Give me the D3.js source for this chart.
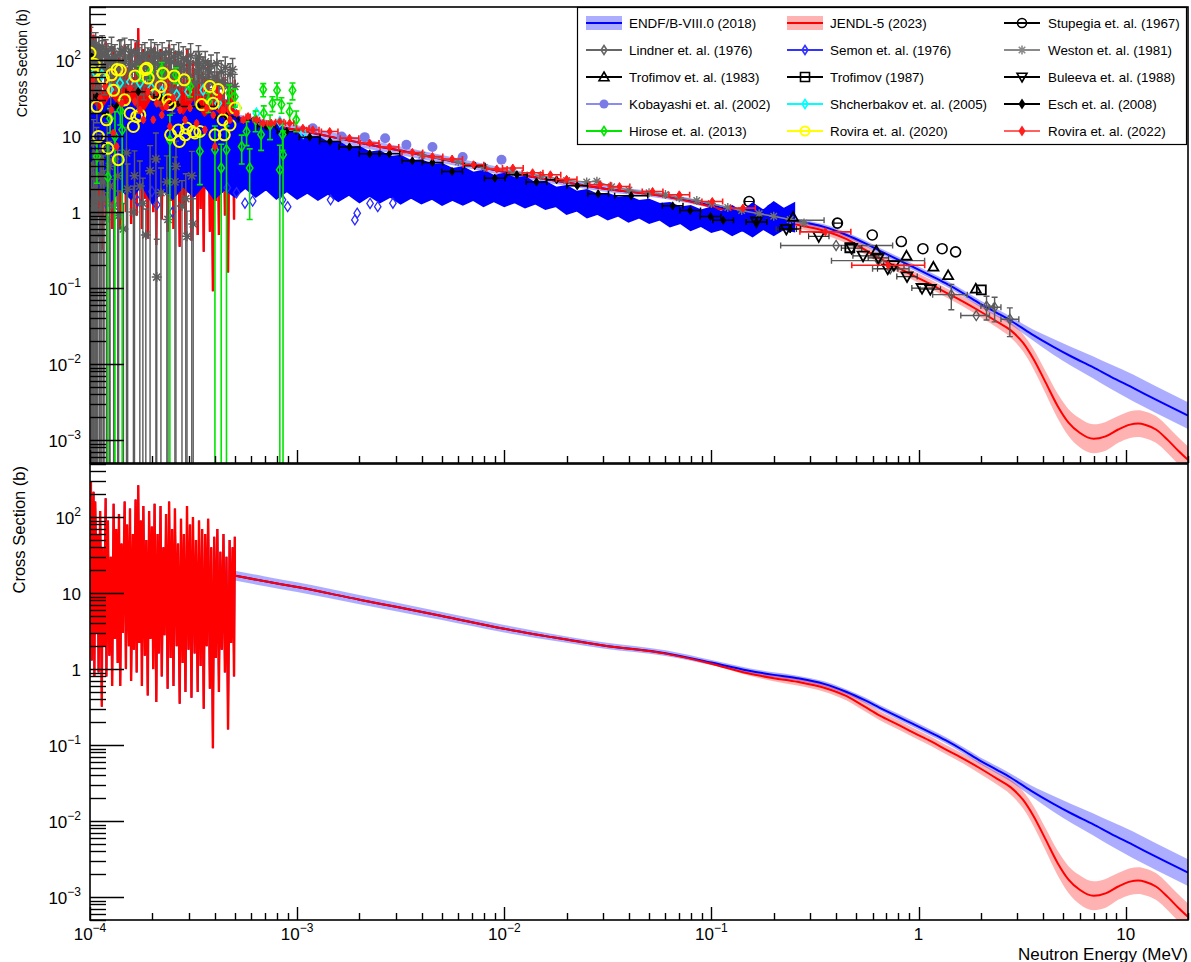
<!DOCTYPE html>
<html><head><meta charset="utf-8">
<script src="https://cdn.jsdelivr.net/npm/d3@7"></script>
<style>body{margin:0;background:#fff}svg{display:block;font-family:"Liberation Sans",Arial,sans-serif}</style>
</head><body><svg width="1191" height="962"></svg>
<script>
// ---------------- DATA ----------------
const xTickVals = [1e-4, 1e-3, 1e-2, 1e-1, 1, 10];
const xTickText = [["10","\u22124"],["10","\u22123"],["10","\u22122"],["10","\u22121"],["1",""],["10",""]];
const yTickVals = [1e-3, 1e-2, 1e-1, 1, 10, 100];
const yTickText = [["10","\u22123"],["10","\u22122"],["10","\u22121"],["1",""],["10",""],["10","2"]];
const legendLabels = ["ENDF/B-VIII.0 (2018)","JENDL-5 (2023)","Stupegia et. al. (1967)",
 "Lindner et. al. (1976)","Semon et. al. (1976)","Weston et. al. (1981)",
 "Trofimov et. al. (1983)","Trofimov (1987)","Buleeva et. al. (1988)",
 "Kobayashi et. al. (2002)","Shcherbakov et. al. (2005)","Esch et. al. (2008)",
 "Hirose et. al. (2013)","Rovira et. al. (2020)","Rovira et. al. (2022)"];

// Evaluated resonance region (shared by both evaluations, MeV / barn)
const resE = [1.000e-4,1.010e-4,1.020e-4,1.040e-4,1.050e-4,1.060e-4,1.080e-4,1.090e-4,1.100e-4,1.120e-4,
1.140e-4,1.150e-4,1.170e-4,1.190e-4,1.200e-4,1.220e-4,1.240e-4,1.260e-4,1.280e-4,1.300e-4,
1.320e-4,1.340e-4,1.360e-4,1.380e-4,1.400e-4,1.420e-4,1.440e-4,1.470e-4,1.490e-4,1.510e-4,
1.540e-4,1.560e-4,1.580e-4,1.610e-4,1.630e-4,1.660e-4,1.680e-4,1.710e-4,1.730e-4,1.760e-4,
1.780e-4,1.810e-4,1.840e-4,1.870e-4,1.900e-4,1.930e-4,1.960e-4,1.990e-4,2.020e-4,2.050e-4,
2.090e-4,2.120e-4,2.150e-4,2.190e-4,2.220e-4,2.260e-4,2.290e-4,2.330e-4,2.370e-4,2.410e-4,
2.450e-4,2.490e-4,2.530e-4,2.570e-4,2.620e-4,2.660e-4,2.710e-4,2.750e-4,2.800e-4,2.840e-4,
2.890e-4,2.940e-4,2.990e-4,3.040e-4,3.090e-4,3.140e-4,3.200e-4,3.250e-4,3.310e-4,3.360e-4,
3.420e-4,3.480e-4,3.540e-4,3.600e-4,3.660e-4,3.720e-4,3.790e-4,3.850e-4,3.920e-4,3.980e-4,
4.050e-4,4.120e-4,4.190e-4,4.260e-4,4.330e-4,4.410e-4,4.480e-4,4.560e-4,4.640e-4,4.720e-4,
4.800e-4,4.880e-4,4.960e-4,5.000e-4];
const resY = [25,294,1.3,215,0.8,160,3,60,0.9,120,
0.32,40,2,177,0.8,90,1.5,30,0.6,150,
2.5,70,1.2,110,0.6,45,3,160,1.0,80,
2,130,0.7,60,1.8,170,0.9,263,2.2,90,
0.6,140,1.5,50,0.45,120,2.5,75,1.0,150,
0.37,60,1.6,140,0.8,40,2.8,110,0.55,160,
1.4,70,0.6,130,2.0,45,0.35,95,1.2,60,
0.5,140,1.8,80,0.42,100,1.6,50,0.5,90,
1.1,70,0.3,60,2.0,95,0.55,40,0.091,55,
1.4,70,0.5,35,1.8,60,0.9,30,0.16,50,
2.2,40,0.8,55];

const endfE = [5e-4,7e-4,1e-3,2e-3,3e-3,5e-3,1e-2,2e-2,3e-2,6e-2,0.1,0.15,0.2,0.26,0.35,0.45,0.55,0.65,0.8,0.94,1.15,1.35,1.65,1.97,2.4,2.78,3.5,4.46,5.5,6.95,8.5,10.8,14,20];
const endfY = [17,14.3,12,8.2,6.6,5.0,3.4,2.45,2.05,1.62,1.22,0.96,0.84,0.76,0.64,0.5,0.39,0.31,0.235,0.19,0.145,0.116,0.085,0.063,0.047,0.0375,0.025,0.017,0.0125,0.0091,0.0068,0.0049,0.0034,0.0021];
const endfU = [0.16,0.16,0.16,0.15,0.14,0.13,0.12,0.1,0.1,0.09,0.08,0.08,0.08,0.08,0.08,0.08,0.09,0.09,0.1,0.1,0.1,0.1,0.1,0.11,0.12,0.13,0.18,0.27,0.33,0.4,0.45,0.5,0.5,0.5];
const jendlE = [5e-4,7e-4,1e-3,2e-3,3e-3,5e-3,1e-2,2e-2,3e-2,6e-2,0.1,0.15,0.2,0.26,0.35,0.45,0.55,0.65,0.8,0.94,1.15,1.35,1.65,1.97,2.4,2.78,3.2,3.6,4.1,4.7,5.3,6.0,7.0,8.0,9.2,10.5,11.5,12.5,14,16,18,20];
const jendlY = [17,14.3,12,8.2,6.6,5.0,3.4,2.45,2.05,1.6,1.18,0.88,0.76,0.68,0.57,0.44,0.32,0.245,0.185,0.147,0.112,0.088,0.066,0.05,0.036,0.028,0.019,0.0115,0.0058,0.0028,0.0017,0.00125,0.00104,0.00112,0.00138,0.0016,0.00165,0.00158,0.00138,0.001,0.00072,0.00055];
const jendlU = [0.02,0.02,0.02,0.02,0.02,0.02,0.02,0.02,0.02,0.02,0.03,0.06,0.1,0.12,0.13,0.14,0.15,0.15,0.15,0.15,0.15,0.15,0.16,0.18,0.2,0.25,0.3,0.35,0.4,0.45,0.5,0.55,0.55,0.55,0.5,0.5,0.5,0.5,0.5,0.5,0.5,0.5];

// Semon (1976): dense data, read as lower / upper envelope
const semonE = [1.00e-4,1.12e-4,1.26e-4,1.41e-4,1.58e-4,1.78e-4,2.00e-4,2.24e-4,2.51e-4,2.82e-4,
3.16e-4,3.55e-4,3.98e-4,4.47e-4,5.01e-4,5.62e-4,6.31e-4,7.08e-4,7.94e-4,8.91e-4,
1.00e-3,1.12e-3,1.26e-3,1.41e-3,1.58e-3,1.78e-3,2.00e-3,2.24e-3,2.51e-3,2.82e-3,
3.16e-3,3.55e-3,3.98e-3,4.47e-3,5.01e-3,5.62e-3,6.31e-3,7.08e-3,7.94e-3,8.91e-3,
1.00e-2,1.12e-2,1.26e-2,1.41e-2,1.58e-2,1.78e-2,2.00e-2,2.24e-2,2.51e-2,2.82e-2,
3.16e-2,3.55e-2,3.98e-2,4.47e-2,5.01e-2,5.62e-2,6.31e-2,7.08e-2,7.94e-2,8.91e-2,
0.100,0.112,0.126,0.141,0.158,0.178,0.200,0.224,0.251];
const semonHi = [30,20,32,22,28,18,30,20,26,18,28,17,22,16,20,15,18,13.5,14.5,11.5,
11,9.5,9.8,8.2,8.4,7.0,7.2,6.1,6.3,5.3,5.5,4.7,4.8,4.2,4.3,3.7,3.9,3.3,3.5,3.0,
3.2,2.8,2.9,2.4,2.5,2.1,2.2,1.85,1.95,1.7,1.75,1.55,1.6,1.4,1.45,1.28,1.32,1.15,1.2,1.05,
1.15,1.0,1.2,1.0,1.3,1.05,1.35,1.1,1.3];
const semonLo = [1.6,2.2,1.4,2.0,1.5,2.3,1.3,2.0,1.5,2.2,1.6,2.3,1.5,2.0,1.6,2.1,1.6,2.0,1.5,1.9,
1.5,1.8,1.45,1.75,1.4,1.7,1.35,1.65,1.35,1.6,1.3,1.55,1.3,1.5,1.25,1.45,1.25,1.45,1.2,1.4,
1.2,1.35,1.15,1.3,1.1,1.2,0.95,1.05,0.85,0.95,0.8,0.9,0.75,0.85,0.72,0.8,0.65,0.72,0.58,0.66,
0.55,0.6,0.5,0.58,0.48,0.6,0.5,0.6,0.56];
const semonPts = [[1.05e-4,1.5],[1.2e-4,1.3],[1.7e-4,1.4],[1.99e-4,1.87],[2.1e-4,1.25],[2.5e-4,1.0],[4.6e-4,2.1],[5.1e-4,1.8],[5.6e-4,1.31],
[6.1e-4,1.4],[8.5e-4,1.45],[9.0e-4,1.18],[1.45e-3,1.45],[1.9e-3,0.79],[1.95e-3,0.97],[2.25e-3,1.3],[2.45e-3,1.18],[2.9e-3,1.31]];

// Weston (1981) low-energy data: [E, sigma, error]
const westonLow = [
[1.005e-4,180,90],[1.01e-4,150,80],[1.015e-4,2,2.5],[1.02e-4,60,40],[1.025e-4,0.9,1.1],[1.03e-4,110,60],[1.035e-4,4,5],[1.04e-4,8,8.5],
[1.045e-4,120,60],[1.05e-4,90,60],[1.055e-4,1.2,1.5],[1.06e-4,3,3.2],[1.065e-4,160,70],[1.07e-4,130,70],[1.075e-4,6,7],[1.08e-4,40,25],
[1.085e-4,100,50],[1.09e-4,1.5,1.6],[1.10e-4,100,55],[1.105e-4,140,60],[1.11e-4,0.5,0.6],[1.12e-4,5,5.5],[1.125e-4,90,45],[1.13e-4,70,40],
[1.14e-4,3,3.5],[1.145e-4,150,60],[1.15e-4,120,60],[1.16e-4,2.5,3],[1.17e-4,1.5,2],[1.18e-4,80,45],[1.19e-4,130,55],[1.20e-4,0.8,1],
[1.21e-4,7,8],[1.22e-4,110,55],[1.23e-4,90,45],[1.24e-4,4,4.5],[1.25e-4,2.2,2.6],[1.26e-4,60,35],[1.27e-4,140,60],[1.28e-4,100,50],
[1.30e-4,1.2,1.5],[1.31e-4,5,6],[1.32e-4,110,50],[1.33e-4,85,45],[1.35e-4,75,40],[1.36e-4,3,3.5],[1.375e-4,0.9,1],[1.39e-4,120,60],
[1.41e-4,130,55],[1.42e-4,50,30],[1.44e-4,90,45],[1.45e-4,0.6,0.7],[1.47e-4,140,55],[1.48e-4,95,50],[1.50e-4,6,7],[1.52e-4,2,2.3],
[1.535e-4,110,50],[1.55e-4,70,40],[1.58e-4,130,55],[1.60e-4,85,40],[1.62e-4,1,1.2],[1.64e-4,3,3.4],[1.66e-4,90,45],[1.68e-4,125,55],
[1.70e-4,45,25],[1.72e-4,100,45],[1.74e-4,2.2,2.5],[1.76e-4,70,35],[1.78e-4,110,50],[1.80e-4,1.3,1.5],[1.82e-4,60,30],[1.84e-4,120,50],
[1.86e-4,0.5,0.6],[1.88e-4,85,40],[1.90e-4,100,45],[1.92e-4,70,35],[1.95e-4,3.5,4],[1.97e-4,130,55],[2.00e-4,75,40],[2.02e-4,95,45],
[2.05e-4,120,50],[2.07e-4,60,30],[2.08e-4,5,6],[2.10e-4,0.14,0.3],[2.12e-4,110,50],[2.15e-4,85,40],[2.17e-4,55,30],[2.20e-4,1.8,2],
[2.23e-4,120,50],[2.26e-4,65,35],[2.29e-4,90,40],[2.32e-4,100,45],[2.35e-4,2.5,3],[2.38e-4,0.8,0.9],[2.41e-4,125,55],[2.44e-4,70,35],
[2.47e-4,95,45],[2.50e-4,40,20],[2.54e-4,110,50],[2.57e-4,2.5,2.8],[2.60e-4,4,4.6],[2.61e-4,65,30],[2.64e-4,90,40],[2.68e-4,120,50],
[2.71e-4,55,30],[2.75e-4,85,40],[2.78e-4,1.2,1.4],[2.82e-4,105,45],[2.86e-4,75,35],[2.90e-4,1.5,1.7],[2.94e-4,0.48,0.55],[2.98e-4,95,45],
[3.02e-4,60,30],[3.06e-4,115,50],[3.10e-4,3,3.3],[3.15e-4,0.7,0.8],[3.20e-4,50,25],[3.25e-4,90,40],[3.30e-4,70,35],[3.34e-4,110,45],
[3.38e-4,90,40],[3.45e-4,60,25],[3.52e-4,80,30],[3.60e-4,95,35],[3.68e-4,55,22],[3.76e-4,70,28],[3.84e-4,85,32],[3.92e-4,50,20],
[4.00e-4,60,25],[4.10e-4,90,35],[4.20e-4,50,20],[4.30e-4,70,28],[4.40e-4,50,20],[4.50e-4,80,30],[4.62e-4,45,20],[4.75e-4,65,25],
[4.88e-4,75,30],[5.00e-4,45,20]];
const westonMid = [[4.0e-3,5.6],[6e-3,4.6],[8e-3,3.9],[1.1e-2,3.4],[1.5e-2,3.0],[2.0e-2,2.6],[2.5e-2,2.5],[2.8e-2,2.55],[3.3e-2,2.15],
[4.0e-2,1.95],[5.0e-2,1.8],[6.0e-2,1.7],[7.0e-2,1.55],[8.5e-2,1.42],[0.1,1.3],[0.12,1.15],[0.14,1.05],[0.17,0.95],[0.2,0.88],[0.24,0.8],[0.28,0.72]];

// sparse fast-neutron data: [E, sigma, xlow, xhigh, yerr]
const stupegia = [[0.152,1.38,0.145,0.16,0],[0.195,1.07,0.186,0.205,0],[0.406,0.717,0.39,0.425,0],[0.598,0.50,0,0,0],[0.826,0.41,0,0,0],[1.05,0.33,0,0,0],[1.30,0.33,0,0,0],[1.51,0.30,0,0,0]];
const lindner = [[0.2,0.78,0.1,0.35,0],[0.40,0.364,0.216,0.75,0],[0.64,0.23,0.38,1.07,0],[0.73,0.18,0.6,0.9,0],[1.44,0.082,1.17,1.72,0.03],
[1.90,0.0436,1.6,2.2,0],[2.13,0.058,2.0,2.3,0.02],[2.33,0.056,2.2,2.5,0.02],[2.76,0.039,2.5,3.05,0.016]];
const trofimov83 = [[0.248,0.86],[0.625,0.31],[0.875,0.266],[1.18,0.19],[1.39,0.147],[1.89,0.098]];
const trofimov87 = [[0.466,0.34],[2.01,0.095]];
const buleeva = [[0.165,0.75],[0.23,0.60],[0.33,0.48],[0.475,0.336],[0.54,0.266],[0.64,0.25],[0.71,0.18],[0.76,0.20],[0.88,0.142],[1.04,0.10],[1.14,0.097]];
const kobayashi = [[1.19e-3,12.7],[1.64e-3,9.9],[2.12e-3,9.7],[2.66e-3,9.4],[3.37e-3,7.7],[4.5e-3,7.2],[6.3e-3,5.3],[9.7e-3,4.9]];
const shcherbakov = [[1.057e-4,70],[1.14e-4,64],[1.25e-4,41],[1.396e-4,50],[1.56e-4,52],[1.743e-4,50],[1.98e-4,43],[2.22e-4,38.5],[2.62e-4,35],
[2.98e-4,38.5],[3.52e-4,40.5],[4.16e-4,27],[5.19e-4,23.4],[6.36e-4,20],[8.25e-4,15.5],[1.07e-3,11]];
// Esch (2008): E, sigma, half bin width (decades)
const esch = [[1.02e-4,110,0.01],[1.08e-4,33,0.015],[1.2e-4,19.3,0.015],[1.345e-4,24.5,0.02],[1.71e-4,38.5,0.06],[2.18e-4,33,0.03],[2.48e-4,26.5,0.03],
[3.33e-4,24.5,0.09],[4.56e-4,18.1,0.05],[5.7e-4,16.4,0.04],[7.1e-4,13.4,0.045],[8.9e-4,11.5,0.045],[1.15e-3,9.7,0.05],[1.44e-3,8.5,0.05],
[1.79e-3,7.2,0.05],[2.24e-3,5.85,0.05],[2.79e-3,5.85,0.05],[3.6e-3,4.73,0.05],[4.5e-3,4.5,0.05],[5.6e-3,3.42,0.05],[7.2e-3,4.07,0.05],
[9.0e-3,2.8,0.05],[1.15e-2,3.1,0.05],[1.43e-2,2.5,0.05],[1.79e-2,2.66,0.05],[2.25e-2,2.22,0.05],[2.84e-2,1.74,0.05],[4.1e-2,1.64,0.08],
[6.5e-2,1.21,0.05],[7.9e-2,1.05,0.05],[9.9e-2,0.875,0.05],[0.114,0.78,0.05],[0.165,0.74,0.05],[0.24,0.6,0.05]];
// Hirose (2013): E, sigma, error
const hirose = [[1.08e-4,5.4,3],[1.22e-4,2.9,5],[1.25e-4,17,6],[1.32e-4,9.9,11],[1.40e-4,22,8],[1.43e-4,12.1,13],[1.74e-4,68,15],[1.95e-4,70,15],
[2.22e-4,75,18],[2.43e-4,8.9,10],[2.60e-4,64,15],[3.04e-4,45,12],[3.39e-4,6.3,4],[3.73e-4,28.5,8],[4.01e-4,6.6,7],[4.3e-4,3.8,4],[4.56e-4,6.6,7],
[4.7e-4,37,10],[5.0e-4,33,9],[5.4e-4,7.3,3],[5.7e-4,11.5,4],[5.9e-4,3.8,3],[6.3e-4,16.4,5],[6.7e-4,10.5,4],[6.86e-4,41,8],[6.9e-4,20,5],
[7.4e-4,14,5],[7.6e-4,27,6],[8.0e-4,40,10],[8.25e-4,3.6,4],[8.4e-4,26,6],[8.5e-4,10.5,4],[8.55e-4,5.7,6],[9.2e-4,21,6],[9.5e-4,40,10],[9.9e-4,16.4,5]];
const rovira2020 = [[1.0e-4,124],[1.03e-4,70],[1.05e-4,88],[1.08e-4,24.5],[1.10e-4,9.9],[1.16e-4,58],[1.20e-4,16.4],[1.22e-4,6.9],[1.27e-4,64],[1.30e-4,40],
[1.35e-4,75],[1.37e-4,4.9],[1.40e-4,74],[1.47e-4,30],[1.56e-4,20],[1.62e-4,13.4],[1.65e-4,62],[1.68e-4,18],[1.74e-4,19],[1.85e-4,75],[1.88e-4,78],
[1.91e-4,58],[2.05e-4,35],[2.20e-4,45],[2.25e-4,67],[2.38e-4,30],[2.43e-4,26],[2.45e-4,10.4],[2.55e-4,62],[2.67e-4,12],[2.70e-4,8.5],[2.85e-4,55],
[2.88e-4,10.4],[2.93e-4,12.8],[3.14e-4,11.5],[3.21e-4,11],[3.39e-4,11.5],[3.46e-4,26],[3.79e-4,45],[3.93e-4,27],[4.01e-4,10.4],[4.16e-4,41],
[4.39e-4,16.4],[4.45e-4,10.4],[4.74e-4,14],[5.01e-4,23.4]];
// Rovira (2022): E, sigma, half bin width (decades)
const rovira2022 = [[1.02e-4,55,0.005],[1.118e-4,31.6,0.005],[1.181e-4,45,0.005],[1.27e-4,22,0.005],[1.296e-4,11,0.005],[1.345e-4,7.3,0.005],
[1.422e-4,27,0.005],[1.56e-4,43,0.005],[1.649e-4,28.5,0.005],[1.743e-4,22,0.005],[1.81e-4,16.4,0.005],[1.91e-4,38,0.005],[2.02e-4,16.4,0.005],
[2.10e-4,27,0.005],[2.22e-4,19,0.005],[2.34e-4,24.5,0.005],[2.43e-4,13.4,0.005],[2.52e-4,31.6,0.005],[2.72e-4,22,0.005],[2.875e-4,16.4,0.005],
[3.04e-4,23.4,0.005],[3.27e-4,14.8,0.005],[3.59e-4,12.1,0.005],[3.66e-4,23.4,0.005],[3.94e-4,19,0.005],[4.01e-4,7.3,0.005],[4.24e-4,33,0.005],
[4.4e-4,22,0.005],[4.74e-4,16.4,0.005],[5.1e-4,20,0.01],[5.5e-4,16.4,0.01],[5.8e-4,18.1,0.01],[6.36e-4,16.4,0.015],[6.86e-4,14.8,0.015],
[7.5e-4,14.8,0.015],[8.25e-4,15.5,0.02],[9.2e-4,14.8,0.02],[1.066e-3,12.7,0.03],[1.19e-3,12.1,0.03],[1.436e-3,11.5,0.04],[1.79e-3,9.4,0.045],
[2.24e-3,8.1,0.045],[2.79e-3,7.2,0.045],[3.6e-3,6.1,0.05],[4.5e-3,5.4,0.05],[5.6e-3,5.0,0.05],[7.1e-3,4.2,0.05],[9.2e-3,3.7,0.05],[1.1e-2,3.8,0.05],
[1.37e-2,3.3,0.05],[1.67e-2,3.1,0.05],[2.0e-2,2.7,0.05],[2.9e-2,2.29,0.05],[3.6e-2,2.17,0.05],[5.2e-2,1.87,0.05],[7.0e-2,1.69,0.05],
[1.01e-1,1.38,0.05],[1.42e-1,1.13,0.06],[0.355,0.55,0.123],[0.714,0.2,0.176]];

// ---------------- CHART ----------------
const svg = d3.select("svg");
const xs = d3.scaleLog().domain([1e-4, 20]).range([90, 1188]);
const yTop = d3.scaleLog().domain([5e-4, 500]).range([463, 7]);
const yBot = d3.scaleLog().domain([5e-4, 500]).range([920, 464]);
const sv = (y, v) => y(v > 1e-9 ? v : 1e-9);

function clipGroup(id, y) {
  const [b, t] = y.range();
  svg.append("clipPath").attr("id", id).append("rect").attr("x", 90).attr("y", t).attr("width", 1098).attr("height", b - t);
  return svg.append("g").attr("clip-path", `url(#${id})`);
}

function drawEval(g, y) {
  const ep = endfE.map((e, i) => ({e, v: endfY[i], u: endfU[i]}));
  const jp = jendlE.map((e, i) => ({e, v: jendlY[i], u: jendlU[i]}));
  const band = d3.area().x(d => xs(d.e)).y0(d => sv(y, d.v / (1 + d.u))).y1(d => sv(y, d.v * (1 + d.u))).curve(d3.curveMonotoneX);
  g.append("path").attr("d", band(ep)).attr("fill", "#0000ff").attr("fill-opacity", 0.32);
  g.append("path").attr("d", band(jp)).attr("fill", "#ff0000").attr("fill-opacity", 0.3);
  const smooth = d3.line().x(d => xs(d.e)).y(d => sv(y, d.v)).curve(d3.curveMonotoneX);
  const lin = d3.line().x(d => xs(d[0])).y(d => sv(y, d[1]));
  const res = resE.map((e, i) => [e, resY[i]]);
  g.append("path").attr("d", lin(res.concat([[endfE[0], endfY[0]]]))).attr("fill", "none").attr("stroke", "#0000ff").attr("stroke-width", 1.6);
  g.append("path").attr("d", smooth(ep)).attr("fill", "none").attr("stroke", "#0000ff").attr("stroke-width", 2);
  g.append("path").attr("d", lin(res.concat([[jendlE[0], jendlY[0]]]))).attr("fill", "none").attr("stroke", "#ff0000").attr("stroke-width", 2.4);
  g.append("path").attr("d", smooth(jp)).attr("fill", "none").attr("stroke", "#ff0000").attr("stroke-width", 2);
}

function marker(g, type, cx, cy, color, s, w) {
  w = w || 1.5;
  let p;
  switch (type) {
    case "circle": g.append("circle").attr("cx", cx).attr("cy", cy).attr("r", s).attr("fill", "none").attr("stroke", color).attr("stroke-width", w); return;
    case "fcircle": g.append("circle").attr("cx", cx).attr("cy", cy).attr("r", s).attr("fill", color); return;
    case "diamond": case "fdiamond":
      p = `M${cx},${cy - s}L${cx + s * 0.65},${cy}L${cx},${cy + s}L${cx - s * 0.65},${cy}Z`; break;
    case "tri": p = `M${cx},${cy - s}L${cx + s},${cy + s * 0.75}L${cx - s},${cy + s * 0.75}Z`; break;
    case "itri": p = `M${cx},${cy + s}L${cx + s},${cy - s * 0.75}L${cx - s},${cy - s * 0.75}Z`; break;
    case "square": p = `M${cx - s},${cy - s}H${cx + s}V${cy + s}H${cx - s}Z`; break;
    case "star": {
      const d = s * 0.72;
      g.append("path").attr("d", `M${cx - s},${cy}H${cx + s}M${cx},${cy - s}V${cy + s}M${cx - d},${cy - d}L${cx + d},${cy + d}M${cx - d},${cy + d}L${cx + d},${cy - d}`)
        .attr("stroke", color).attr("stroke-width", w).attr("fill", "none");
      return;
    }
  }
  const filled = type === "fdiamond";
  g.append("path").attr("d", p).attr("fill", filled ? color : "none").attr("stroke", color).attr("stroke-width", w);
}

function hbar(g, y, x1e, x2e, v, color, w) {
  const x1 = xs(x1e), x2 = xs(x2e), yy = sv(y, v);
  g.append("path").attr("d", `M${x1},${yy}H${x2}M${x1},${yy - 3}V${yy + 3}M${x2},${yy - 3}V${yy + 3}`)
    .attr("stroke", color).attr("stroke-width", w).attr("fill", "none");
}
function vbar(g, y, e, v, err, color, w) {
  const xx = xs(e), y1 = sv(y, v - err), y2 = sv(y, v + err);
  let d = `M${xx},${y1}V${y2}M${xx - 3},${y2}H${xx + 3}`;
  if (v - err > 0) d += `M${xx - 3},${y1}H${xx + 3}`;
  g.append("path").attr("d", d).attr("stroke", color).attr("stroke-width", w).attr("fill", "none");
}

function drawAxes(y, withXLabels, titleSize, titleEnd) {
  const [b, t] = y.range();
  const ax = svg.append("g").attr("stroke", "#000").attr("fill", "none");
  for (let d = -4; d <= 2; d++) for (let m = 1; m <= 9; m++) {
    const v = m * Math.pow(10, d);
    if (v < 5e-4 || v > 500) continue;
    const yy = Math.round(y(v)) + 0.5;
    ax.append("line").attr("x1", 90).attr("x2", 90 + (m === 1 ? 34 : 16)).attr("y1", yy).attr("y2", yy).attr("stroke-width", 1.4);
  }
  for (let d = -4; d <= 1; d++) for (let m = 1; m <= 9; m++) {
    const v = m * Math.pow(10, d);
    if (v < 1e-4 || v > 20) continue;
    const xx = Math.round(xs(v)) + 0.5;
    ax.append("line").attr("x1", xx).attr("x2", xx).attr("y1", b).attr("y2", b - (m === 1 ? 13 : 7)).attr("stroke-width", 1.4);
  }
  ax.append("rect").attr("x", 90).attr("y", t).attr("width", 1098).attr("height", b - t).attr("stroke-width", 1.6);
  const lab = svg.append("g").attr("font-size", 17).attr("fill", "#000");
  yTickVals.forEach((v, i) => {
    const tx = lab.append("text").attr("x", 81).attr("y", y(v) + 7).attr("text-anchor", "end").text(yTickText[i][0]);
    if (yTickText[i][1]) tx.append("tspan").attr("dy", -8).attr("font-size", 12).text(yTickText[i][1]);
  });
  if (withXLabels) {
    xTickVals.forEach((v, i) => {
      const tx = lab.append("text").attr("x", xs(v)).attr("y", 940).attr("text-anchor", "middle").text(xTickText[i][0]);
      if (xTickText[i][1]) tx.append("tspan").attr("dy", -8).attr("font-size", 12).text(xTickText[i][1]);
    });
  }
  svg.append("text").attr("transform", `translate(${titleSize > 15 ? 25 : 27},${titleEnd}) rotate(-90)`).attr("text-anchor", "end")
    .attr("font-size", titleSize).text("Cross Section (b)");
}

// ----- top panel -----
const gT = clipGroup("clipT", yTop);
drawEval(gT, yTop);
stupegia.forEach(d => { if (d[2]) hbar(gT, yTop, d[2], d[3], d[1], "#000", 1.2); marker(gT, "circle", xs(d[0]), yTop(d[1]), "#000", 5, 1.6); });
lindner.forEach(d => { hbar(gT, yTop, d[2], d[3], d[1], "#5a5a5a", 1.4); if (d[4]) vbar(gT, yTop, d[0], d[1], d[4], "#5a5a5a", 1.4);
  marker(gT, "diamond", xs(d[0]), yTop(d[1]), "#5a5a5a", 5, 1.3); });
const semonArea = d3.area().x((d, i) => xs(semonE[i])).y0((d, i) => yTop(semonLo[i])).y1((d, i) => yTop(semonHi[i]));
gT.append("path").attr("d", semonArea(semonE)).attr("fill", "#0000ff").attr("stroke", "#0000ff").attr("stroke-width", 2);
semonPts.forEach(d => marker(gT, "diamond", xs(d[0]), yTop(d[1]), "#2a2aff", 5, 1.3));
westonLow.forEach(d => vbar(gT, yTop, d[0], d[1], d[2], "#5c5c5c", 1.4));
westonLow.forEach(d => marker(gT, "star", xs(d[0]), yTop(d[1]), "#5c5c5c", 5, 1.5));
gT.append("path").attr("d", d3.line().x(d => xs(d[0])).y(d => yTop(d[1]))(westonMid)).attr("fill", "none").attr("stroke", "#808080").attr("stroke-width", 1.5);
westonMid.forEach(d => marker(gT, "star", xs(d[0]), yTop(d[1]), "#707070", 4.5, 1.4));
buleeva.forEach(d => { hbar(gT, yTop, d[0] / 1.12, d[0] * 1.12, d[1], "#333", 1.2); });
trofimov83.forEach(d => marker(gT, "tri", xs(d[0]), yTop(d[1]), "#000", 5, 1.8));
trofimov87.forEach(d => marker(gT, "square", xs(d[0]), yTop(d[1]), "#000", 4.5, 1.8));
buleeva.forEach(d => marker(gT, "itri", xs(d[0]), yTop(d[1]), "#000", 5.5, 1.8));
kobayashi.forEach(d => marker(gT, "fcircle", xs(d[0]), yTop(d[1]), "#7b7be8", 5));
shcherbakov.forEach(d => marker(gT, "diamond", xs(d[0]), yTop(d[1]), "#00ffff", 5, 1.6));
esch.forEach(d => { hbar(gT, yTop, d[0] / Math.pow(10, d[2]), d[0] * Math.pow(10, d[2]), d[1], "#000", 1.5); marker(gT, "fdiamond", xs(d[0]), yTop(d[1]), "#000", 4, 1); });
hirose.forEach(d => { vbar(gT, yTop, d[0], d[1], d[2], "#00e600", 1.6); marker(gT, "diamond", xs(d[0]), yTop(d[1]), "#00e600", 5, 1.6); });
rovira2020.forEach(d => marker(gT, "circle", xs(d[0]), yTop(d[1]), "#ffff00", 5.5, 2));
rovira2022.forEach(d => { hbar(gT, yTop, d[0] / Math.pow(10, d[2]), d[0] * Math.pow(10, d[2]), d[1], "#ff1a1a", 1.6); marker(gT, "fdiamond", xs(d[0]), yTop(d[1]), "#ff1a1a", 4, 1); });

drawAxes(yTop, false, 14, 9);

// ----- legend -----
const lg = svg.append("g");
lg.append("rect").attr("x", 577.5).attr("y", 7.5).attr("width", 609).attr("height", 137).attr("fill", "#fff").attr("stroke", "#000").attr("stroke-width", 1.2);
const colSym = [604, 805, 1022], colTxt = [629, 830, 1048];
const legStyle = [
  {band: "rgba(0,0,255,0.32)", c: "#0000ff"}, {band: "rgba(255,0,0,0.3)", c: "#ff0000"}, {c: "#000", m: "circle"},
  {c: "#666", m: "diamond"}, {c: "#3333ff", m: "diamond"}, {c: "#8a8a8a", m: "star"},
  {c: "#000", m: "tri"}, {c: "#000", m: "square"}, {c: "#000", m: "itri"},
  {c: "#8c8cee", m: "fcircle", mc: "#7b7be8"}, {c: "#00ffff", m: "diamond"}, {c: "#000", m: "fdiamond"},
  {c: "#00e600", m: "diamond"}, {c: "#ffff00", m: "circle"}, {c: "#ff6060", m: "fdiamond", mc: "#ff2020"}];
legendLabels.forEach((t, i) => {
  const r = Math.floor(i / 3), c = i % 3, cy = 23 + r * 27, cx = colSym[c], st = legStyle[i];
  if (st.band) lg.append("rect").attr("x", cx - 18).attr("y", cy - 7).attr("width", 36).attr("height", 14).attr("fill", st.band);
  lg.append("line").attr("x1", cx - 18).attr("x2", cx + 18).attr("y1", cy).attr("y2", cy).attr("stroke", st.c).attr("stroke-width", 2);
  if (st.m) {
    const s = st.m === "fdiamond" ? 4 : (st.m === "tri" || st.m === "itri") ? 5 : 4.5;
    marker(lg, st.m, cx, cy, st.mc || st.c, s, st.m === "circle" && i === 13 ? 2 : 1.6);
  }
  lg.append("text").attr("x", colTxt[c]).attr("y", cy + 5).attr("font-size", 13.4).text(t);
});

// ----- bottom panel -----
const gB = clipGroup("clipB", yBot);
drawEval(gB, yBot);
drawAxes(yBot, true, 16.5, 466);
svg.append("text").attr("x", 1188).attr("y", 959.5).attr("text-anchor", "end").attr("font-size", 17).text("Neutron Energy (MeV)");
</script></body></html>
